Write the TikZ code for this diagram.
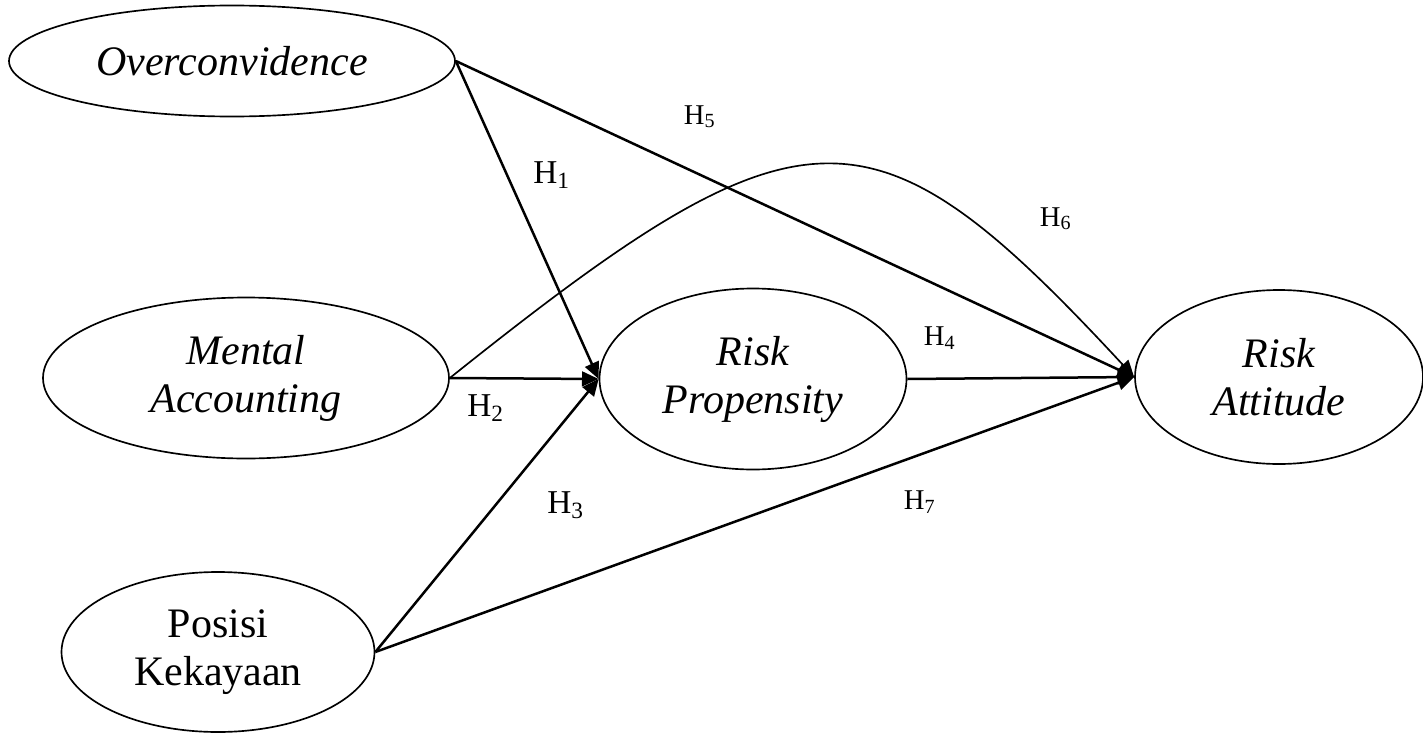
\documentclass[tikz,border=0pt]{standalone}
\usepackage{fontspec}
\setmainfont{Liberation Serif}
\usepackage{tikz}
\usetikzlibrary{arrows.meta,shapes.geometric}
\tikzset{
  cons/.style={draw,ellipse,line width=0.5pt,inner sep=0pt,align=center,font=\fontsize{12.6}{14.4}\selectfont\itshape},
  consup/.style={cons,font=\fontsize{12.6}{14.4}\selectfont},
  arr/.style={-{Triangle[length=5pt,width=4.4pt]},line width=0.75pt},
  carr/.style={-{Triangle[length=5pt,width=4.4pt]},line width=0.5pt},
  hyp/.style={font=\fontsize{10}{12}\selectfont,inner sep=0pt},
  hyps/.style={font=\fontsize{8.6}{10}\selectfont,inner sep=0pt},
}

\begin{document}
\begin{tikzpicture}[x=0.3pt,y=-0.3pt]
    \useasboundingbox (0,0) rectangle (1423,734);
    % constructs (sizes in pt)
    \node[cons,minimum width=133.8pt,minimum height=33.3pt] (oc) at (232,61) {Overconvidence};
    \node[cons,minimum width=121.8pt,minimum height=48.3pt] (ma) at (246,378) {Mental\\Accounting};
    \node[consup,minimum width=93.9pt,minimum height=48pt] (pk) at (218,652) {Posisi\\Kekayaan};
    \node[cons,minimum width=92.1pt,minimum height=54.3pt] (rp) at (753,379) {Risk\\Propensity};
    \node[cons,minimum width=86.4pt,minimum height=52.2pt] (ra) at (1279,377) {Risk\\Attitude};
    % paths
    \draw[arr] (oc.east) -- (rp.west);
    \draw[arr] (ma.east) -- (rp.west);
    \draw[arr] (pk.east) -- (rp.west);
    \draw[arr] (rp.east) -- (ra.west);
    \draw[arr] (oc.east) -- (ra.west);
    \draw[carr] (ma.east) .. controls (805,94) and (872,94) .. (ra.west);
    \draw[arr] (pk.east) -- (ra.west);
    % hypothesis labels
    \node[hyp] (h1) at (552,175) {H\textsubscript{1}};
    \node[hyp] (h2) at (486,408) {H\textsubscript{2}};
    \node[hyp] (h3) at (566,505) {H\textsubscript{3}};
    \node[hyps] (h4) at (940,338) {H\textsubscript{4}};
    \node[hyps] (h5) at (700,117) {H\textsubscript{5}};
    \node[hyps] (h6) at (1056,219) {H\textsubscript{6}};
    \node[hyps] (h7) at (920,502) {H\textsubscript{7}};
\end{tikzpicture}
\end{document}
